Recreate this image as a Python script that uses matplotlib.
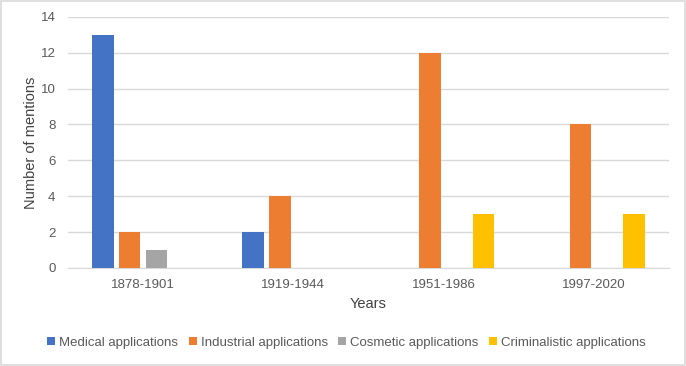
import matplotlib.pyplot as plt
import numpy as np

plt.rcParams["font.family"] = ["Liberation Sans", "DejaVu Sans"]

periods = ["1878-1901", "1919-1944", "1951-1986", "1997-2020"]
series_names = [
    "Medical applications",
    "Industrial applications",
    "Cosmetic applications",
    "Criminalistic applications",
]
medical = [13, 2, 0, 0]
industrial = [2, 4, 12, 8]
cosmetic = [1, 0, 0, 0]
criminalistic = [0, 0, 3, 3]
colors = ["#4472C4", "#ED7D31", "#A5A5A5", "#FFC000"]

text_color = "#595959"
fig = plt.figure(figsize=(6.86, 3.66), dpi=100)
fig.patches.append(
    plt.Rectangle((0.001, 0.002), 0.997, 0.995, transform=fig.transFigure,
                  fill=False, edgecolor="#D9D9D9", linewidth=1.2)
)
ax = fig.add_axes([0.0991, 0.268, 0.876, 0.686])

x = np.arange(len(periods))
step = 0.178
width = 0.143
for i, (vals, name, c) in enumerate(
    zip((medical, industrial, cosmetic, criminalistic), series_names, colors)
):
    ax.bar(x + (i - 1.5) * step, vals, width, color=c, label=name, zorder=3)

ax.set_xlim(-0.5, len(periods) - 0.5)
ax.set_ylim(0, 14)
ax.set_yticks(range(0, 15, 2))
ax.set_xticks(x)
ax.set_xticklabels(periods)
ax.grid(axis="y", color="#D9D9D9", linewidth=1, zorder=0)
for s in ("top", "right", "left"):
    ax.spines[s].set_visible(False)
ax.spines["bottom"].set_color("#D9D9D9")
ax.tick_params(length=0, labelsize=9.5, colors=text_color)
ax.tick_params(axis="x", pad=8)
ax.tick_params(axis="y", pad=9)
ax.set_xlabel("Years", fontsize=10.5, color="#404040", labelpad=4)
ax.set_ylabel("Number of mentions", fontsize=10.5, color="#404040", labelpad=2)

leg = fig.legend(
    loc="center", bbox_to_anchor=(0.505, 0.063), ncol=4, frameon=False,
    fontsize=9.5, handlelength=0.6, handleheight=0.6, handletextpad=0.3,
    columnspacing=0.8,
)
for t in leg.get_texts():
    t.set_color(text_color)

fig.savefig("out.png", dpi=100)
